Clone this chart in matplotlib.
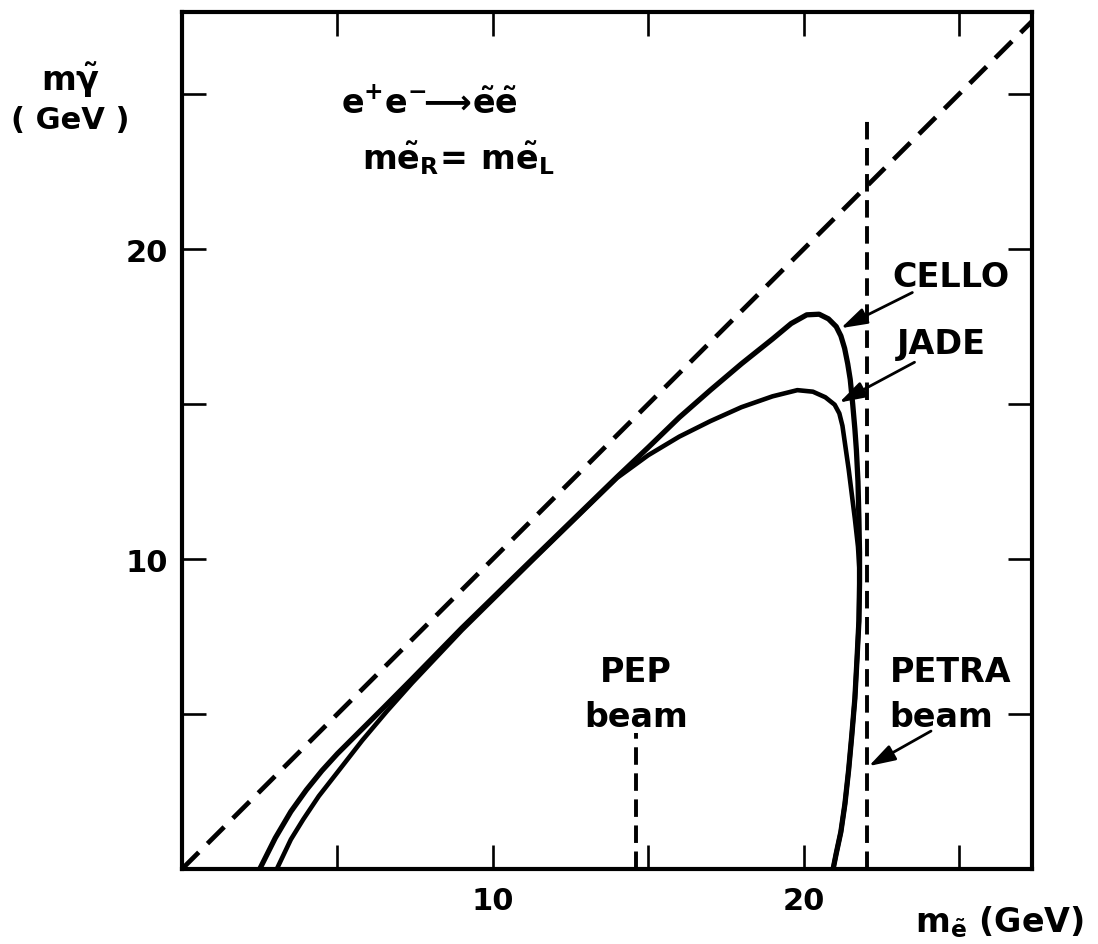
import matplotlib
matplotlib.use('Agg')
from matplotlib import pyplot as plt
from matplotlib.ticker import MultipleLocator, FuncFormatter

plt.rcParams['font.family'] = 'DejaVu Sans'
plt.rcParams['font.weight'] = 'bold'
plt.rcParams['mathtext.fontset'] = 'dejavusans'
plt.rcParams['mathtext.default'] = 'bf'

# CELLO exclusion boundary (m_e~, m_gamma~) in GeV
cello_x = [2.5, 3.0, 3.5, 4.0, 4.5, 5.0, 5.7, 6.5, 7.4, 9.0, 11.3, 14.0,
           15.0, 16.0, 17.0, 18.0, 19.0, 19.6, 20.1, 20.5, 20.8, 21.05, 21.2,
           21.32, 21.42, 21.5, 21.58, 21.65, 21.7, 21.75, 21.78, 21.8, 21.8,
           21.78, 21.72, 21.65, 21.55, 21.45, 21.33, 21.2, 21.05, 20.95]
cello_y = [0.0, 1.0, 1.85, 2.55, 3.17, 3.72, 4.42, 5.22, 6.13, 7.77, 10.02, 12.65,
           13.6, 14.57, 15.45, 16.3, 17.1, 17.6, 17.88, 17.9, 17.75, 17.5, 17.2,
           16.8, 16.3, 15.8, 15.0, 14.2, 13.5, 12.5, 11.3, 10.2, 9.2,
           8.0, 6.8, 5.5, 4.3, 3.2, 2.1, 1.2, 0.5, 0.0]

# JADE exclusion boundary
jade_x = [3.05, 3.5, 3.9, 4.4, 5.0, 5.8, 6.6, 7.4, 9.0, 11.3, 14.0,
          15.0, 16.0, 17.0, 18.0, 19.0, 19.8, 20.3, 20.7, 21.0, 21.15, 21.25,
          21.35, 21.45, 21.55, 21.65, 21.75, 21.8, 21.8,
          21.78, 21.72, 21.65, 21.55, 21.45, 21.33, 21.2, 21.05, 20.95]
jade_y = [0.0, 0.95, 1.6, 2.35, 3.12, 4.15, 5.1, 6.0, 7.7, 9.98, 12.62,
          13.35, 13.95, 14.45, 14.9, 15.25, 15.45, 15.4, 15.22, 14.98, 14.7, 14.3,
          13.6, 12.9, 12.1, 11.3, 10.4, 9.6, 9.2,
          8.0, 6.8, 5.5, 4.3, 3.2, 2.1, 1.2, 0.5, 0.0]

# beam energies and heights of the dashed marks
pep_beam = 14.6
pep_top = 4.4
petra_beam = 22.05
petra_top = 24.3

diag = [0, 30]

x_max = 27.35
y_max = 27.65
tick_labels = [10, 20]

fig = plt.figure(figsize=(10.98, 9.45), dpi=100)
ax = fig.add_axes([0.1658, 0.0794, 0.7741, 0.9068])

# kinematic limit m_gamma = m_e
ax.plot(diag, diag, color='black', lw=3.4, dashes=(5, 2.6))
# beam lines
ax.plot([pep_beam, pep_beam], [0, pep_top], color='black', lw=2.8, dashes=(4.5, 2.2))
ax.plot([petra_beam, petra_beam], [0, petra_top], color='black', lw=2.8,
        dashes=(4.5, 2.2))

# experiment limits
ax.plot(cello_x, cello_y, color='black', lw=3.8, solid_joinstyle='round')
ax.plot(jade_x, jade_y, color='black', lw=3.3, solid_joinstyle='round')

ax.set_xlim(0, x_max)
ax.set_ylim(0, y_max)

ax.xaxis.set_major_locator(MultipleLocator(5))
ax.yaxis.set_major_locator(MultipleLocator(5))
fmt = FuncFormatter(lambda v, p: '%d' % v if int(round(v)) in tick_labels else '')
ax.xaxis.set_major_formatter(fmt)
ax.yaxis.set_major_formatter(fmt)
ax.tick_params(direction='in', top=True, right=True, length=17, width=1.9,
               labelsize=22)
ax.tick_params(axis='x', pad=12)
ax.tick_params(axis='y', pad=10)
for s in ax.spines.values():
    s.set_linewidth(3.0)

# labels on the curves
lab = dict(fontsize=24, fontweight='bold', color='black')
ax.text(22.85, 18.8, 'CELLO', va='baseline', **lab)
ax.text(23.0, 16.65, 'JADE', va='baseline', **lab)
arr = dict(arrowstyle='-|>,head_length=0.8,head_width=0.25', lw=2.0,
           color='black', mutation_scale=20, shrinkA=0, shrinkB=0)
ax.annotate('', xy=(21.2, 17.45), xytext=(23.5, 18.6), arrowprops=arr)
ax.annotate('', xy=(21.15, 15.05), xytext=(23.57, 16.35), arrowprops=arr)

ax.text(pep_beam, 6.05, 'PEP', ha='center', va='baseline', **lab)
ax.text(pep_beam, 4.6, 'beam', ha='center', va='baseline', **lab)
ax.text(22.77, 6.05, 'PETRA', va='baseline', **lab)
ax.text(22.77, 4.6, 'beam', va='baseline', **lab)
ax.annotate('', xy=(22.1, 3.32), xytext=(24.1, 4.45), arrowprops=arr)

# process
ax.text(5.1, 24.4, r'$e^{+}e^{-}\!\!\longrightarrow\!\tilde{e}\tilde{e}$',
        va='baseline', fontsize=24)
ax.text(5.8, 22.6, r'$m\tilde{e}_{R}\!=\,m\tilde{e}_{L}$', va='baseline', fontsize=24)

# axis titles
fig.text(0.064, 0.915, r'$m\tilde{\gamma}$', ha='center', va='center', fontsize=24)
fig.text(0.064, 0.873, '( GeV )', ha='center', va='center', fontsize=22,
         fontweight='bold')
fig.text(0.91, 0.024, r'$m_{\tilde{e}}$ (GeV)', ha='center', va='center',
         fontsize=24, fontweight='bold')

fig.savefig('out.png', dpi=100)
